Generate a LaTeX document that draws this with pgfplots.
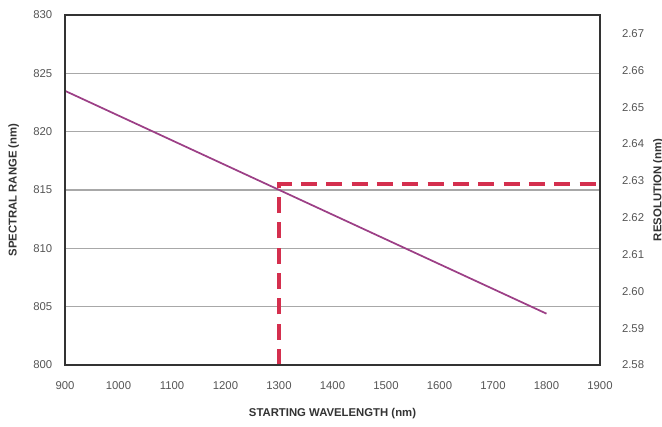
\documentclass[border=0pt]{standalone}
\usepackage{pgfplots}
\pgfplotsset{compat=1.18}
\usepackage{fontspec}
\setmainfont{Liberation Sans}
\definecolor{tickgray}{HTML}{555555}
\definecolor{framegray}{HTML}{333333}
\definecolor{gridgray}{HTML}{A8A8A8}
\definecolor{linepurple}{HTML}{9C3F86}
\definecolor{dashred}{HTML}{D42F4E}
\begin{document}
\begin{tikzpicture}[x=0.75pt,y=0.75pt]
\path[use as bounding box] (0,0) rectangle (662,426);
\begin{axis}[
  at={(48.75pt,45.75pt)}, anchor=south west,
  scale only axis, width=401.25pt, height=262.5pt,
  xmin=900, xmax=1900, ymin=800, ymax=830,
  xtick={900,1000,...,1900}, ytick={800,805,...,830},
  ymajorgrids, grid style={gridgray, line width=1.2pt},
  major tick length=0pt,
  axis line style={framegray, line width=1.5pt},
  axis y line*=left, axis x line*=bottom,
  tick label style={font=\fontsize{8.5}{10}\selectfont, text=tickgray},
  /pgf/number format/assume math mode=true,
  /pgf/number format/1000 sep={},
  xticklabel style={yshift=-9pt},
  yticklabel style={xshift=-6pt},
  xlabel={\bfseries STARTING WAVELENGTH (nm)},
  ylabel={\bfseries SPECTRAL RANGE (nm)},
  label style={font=\fontsize{8.5}{10}\selectfont, text=framegray},
  xlabel style={yshift=-7pt},
  ylabel style={yshift=4pt},
]
\addplot[linepurple, line width=1.3pt] coordinates {(900,823.5) (1800,804.4)};
\addplot[dashred, line width=3pt, dash pattern=on 12pt off 7pt] coordinates {(1300,800) (1300,815.5) (1900,815.5)};
\end{axis}
\begin{axis}[
  at={(48.75pt,45.75pt)}, anchor=south west,
  scale only axis, width=401.25pt, height=262.5pt,
  xmin=900, xmax=1900, ymin=2.58, ymax=2.675,
  ytick={2.58,2.59,...,2.675},
  axis y line*=right, axis x line=none,
  axis line style={framegray, line width=1.5pt},
  major tick length=0pt,
  tick label style={font=\fontsize{8.5}{10}\selectfont, text=tickgray},
  /pgf/number format/assume math mode=true,
  /pgf/number format/fixed, /pgf/number format/fixed zerofill,
  /pgf/number format/precision=2,
  yticklabel style={xshift=13pt},
  ylabel={\bfseries RESOLUTION (nm)},
  ylabel style={font=\fontsize{8.5}{10}\selectfont, text=framegray},
]
\addplot[draw=none] coordinates {(900,2.6)};
\end{axis}
\draw[framegray, line width=1.5pt] (65,61) rectangle (600,411);
\end{tikzpicture}
\end{document}
